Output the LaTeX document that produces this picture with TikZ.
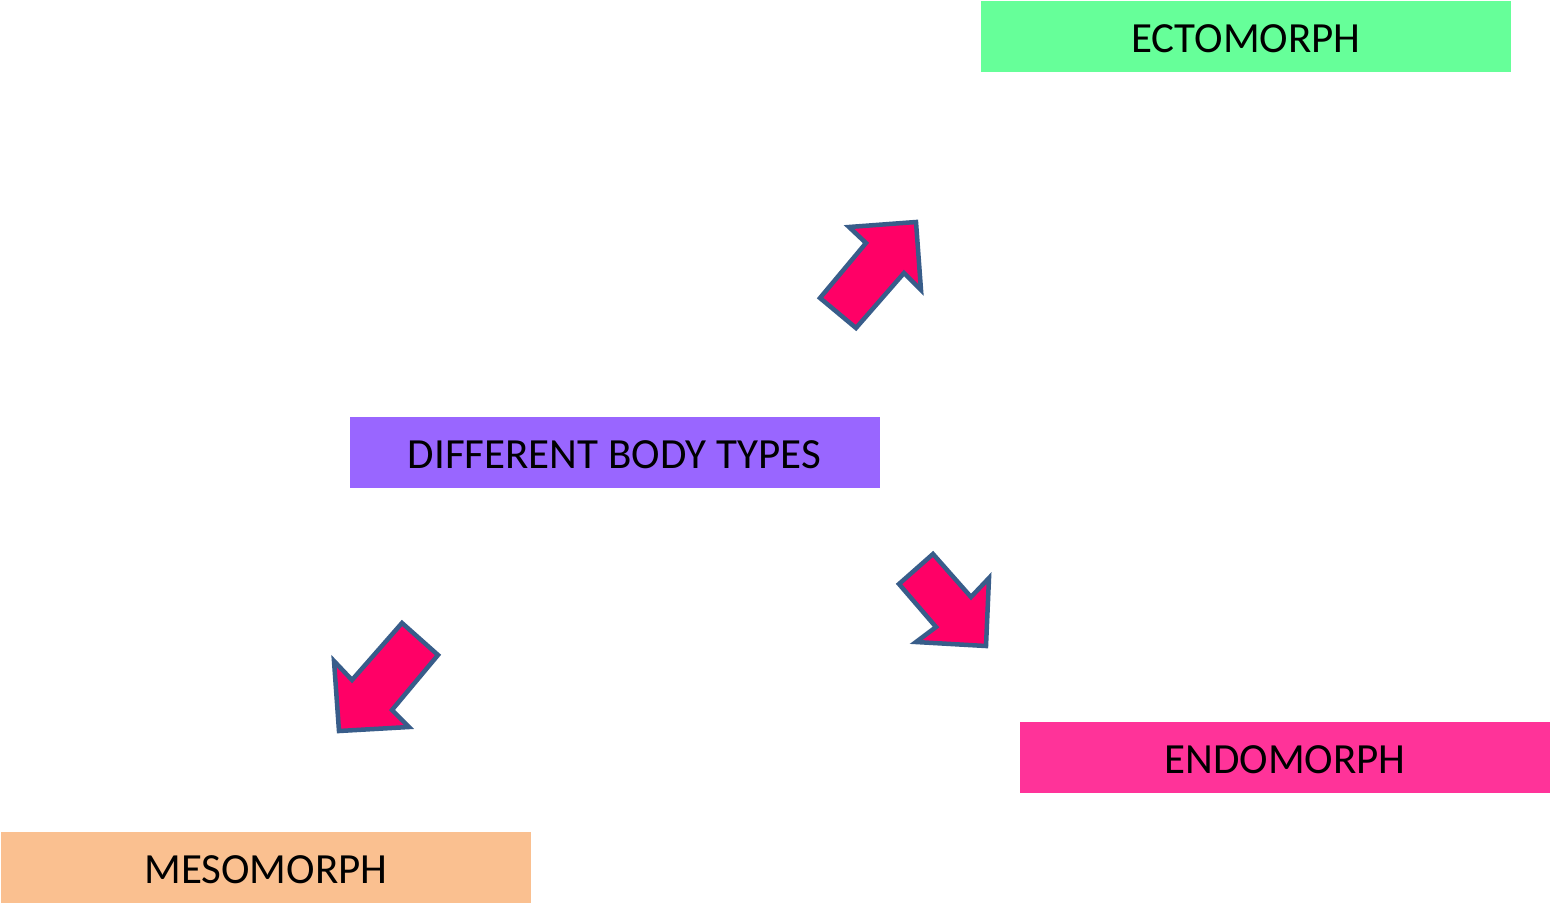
\documentclass[tikz,border=0pt]{standalone}
\usepackage{fontspec}
\setmainfont{Carlito}
\begin{document}
\begin{tikzpicture}[x=1pt,y=-1pt,
  label box/.style={minimum width=530pt,minimum height=71pt,inner sep=0pt,
    text height=32pt,text depth=0pt,
    font=\fontsize{43}{48}\selectfont,text=black},
  block arrow/.style={draw=arrowline,fill=arrowfill,line width=4.5pt,line join=miter}]
\definecolor{ectocol}{HTML}{66FF99}
\definecolor{titlecol}{HTML}{9966FF}
\definecolor{endocol}{HTML}{FF3399}
\definecolor{mesocol}{HTML}{FAC090}
\definecolor{arrowfill}{HTML}{FF0066}
\definecolor{arrowline}{HTML}{385D8A}
\useasboundingbox[fill=white] (0,0) rectangle (1550,903);

% labelled boxes
\node[label box,fill=ectocol]  (ecto)  at (1246,36.5) {ECTOMORPH};
\node[label box,fill=titlecol] (title) at (614.5,452.5) {DIFFERENT BODY TYPES};
\node[label box,fill=endocol]  (endo)  at (1285,757.5) {ENDOMORPH};
\node[label box,fill=mesocol]  (meso)  at (266,867.5) {MESOMORPH};

% block arrows pointing to the body types
\draw[block arrow] (820,298) -- (866,243) -- (849,227) -- (916,222) -- (921,290) -- (904,273) -- (856,328) -- cycle;
\draw[block arrow] (933,554) -- (971,597) -- (989,578) -- (986,646) -- (916,642) -- (936,627) -- (899,584) -- cycle;
\draw[block arrow] (402,623) -- (438,655) -- (392,710) -- (409,727) -- (339,731) -- (334,661) -- (352,680) -- cycle;
\end{tikzpicture}
\end{document}
